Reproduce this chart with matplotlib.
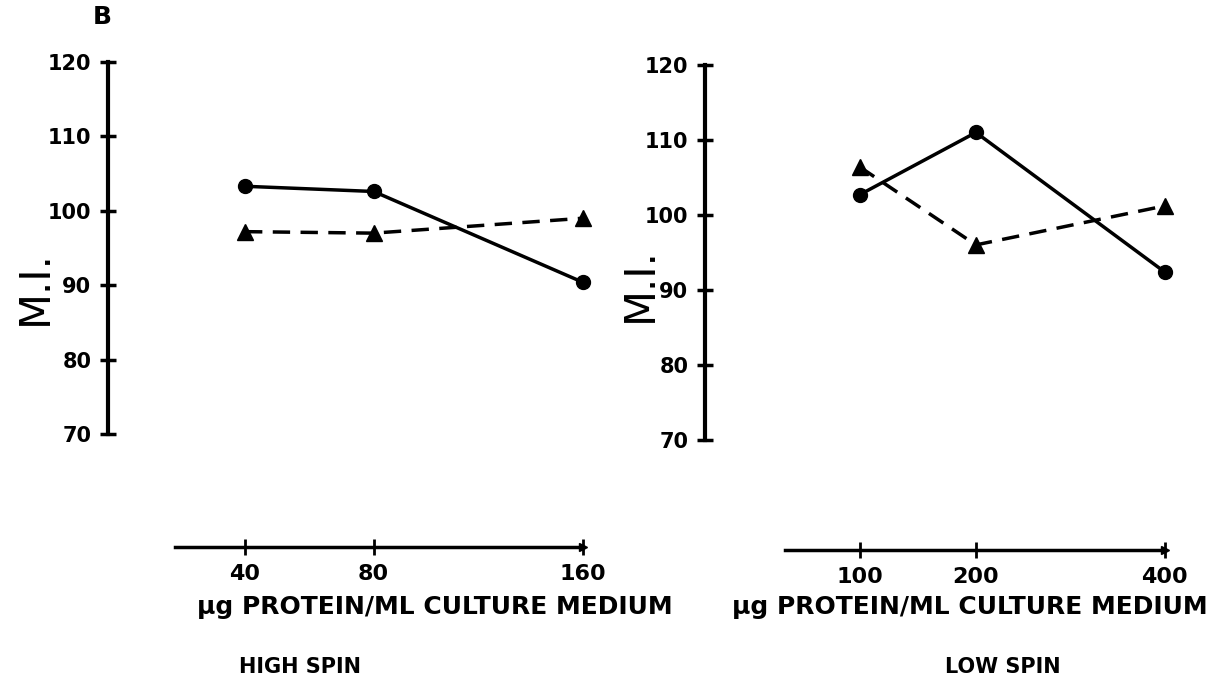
import numpy as np
import matplotlib.pyplot as plt

# values
conc_high = [40, 80, 160]
mi_high_circ = [103.3, 102.6, 90.4]
mi_high_tri = [97.2, 97.0, 99.0]

conc_low = [100, 200, 400]
mi_low_circ = [102.7, 111.0, 92.4]
mi_low_tri = [106.4, 96.0, 101.2]

yticks = [70, 80, 90, 100, 110, 120]

plt.rcParams['font.family'] = ['DejaVu Sans']
plt.rcParams['font.weight'] = 'bold'

fig = plt.figure(figsize=(12.29, 6.88), dpi=100)

# hand drawn x axes are roughly power spaced
fwd = lambda x: np.power(np.clip(x, 0, None), 0.7)
inv = lambda x: np.power(np.clip(x, 0, None), 1 / 0.7)


def panel(rect, conc, circ, tri, xlim, xstart, ylo):
    ax = fig.add_axes(rect)
    ax.set_xscale('function', functions=(fwd, inv))
    ax.set_xlim(*xlim)
    ax.set_ylim(ylo, 120)
    ax.plot(conc, circ, color='black', lw=2.5, marker='o', ms=10, clip_on=False)
    ax.plot(conc, tri, color='black', lw=2.5, ls=(0, (5, 3)), marker='^', ms=11, clip_on=False)
    for s in ['top', 'right']:
        ax.spines[s].set_visible(False)
    ax.spines['left'].set_bounds(70, 120)
    ax.spines['left'].set_linewidth(3)
    ax.spines['bottom'].set_bounds(xstart, conc[-1])
    ax.spines['bottom'].set_linewidth(2.5)
    # little arrow head at the end of the x axis
    ax.plot([conc[-1]], [ylo], marker='>', color='black', ms=6, clip_on=False)
    ax.set_yticks(yticks)
    ax.set_yticklabels([str(v) for v in yticks], fontsize=15)
    ax.set_xticks(conc)
    ax.set_xticklabels([str(v) for v in conc], fontsize=16)
    ax.xaxis.set_minor_locator(plt.NullLocator())
    ax.tick_params(axis='y', direction='inout', length=12, width=2.5, pad=6)
    ax.tick_params(axis='x', direction='inout', length=12, width=2, pad=6)
    ax.patch.set_alpha(0)
    return ax


ax1 = panel([0.0879, 0.2049, 0.4003, 0.7049], conc_high, mi_high_circ, mi_high_tri,
            (8.4, 167.3), 22.1, 54.8)
ax2 = panel([0.5736, 0.2006, 0.3906, 0.7049], conc_low, mi_low_circ, mi_low_tri,
            (7.8, 424), 47.9, 55.3)

fig.text(35 / 1229, 1 - 288 / 688, "M.I.", rotation=90, fontsize=30, fontweight='normal',
         ha='center', va='center')
fig.text(640 / 1229, 1 - 285 / 688, "M.I.", rotation=90, fontsize=30, fontweight='normal',
         ha='center', va='center')
fig.text(102 / 1229, 1 - 17 / 688, "B", fontsize=18, ha='center', va='center')

fig.text(435 / 1229, 1 - 607 / 688, "µg PROTEIN/ML CULTURE MEDIUM", fontsize=18, ha='center', va='center')
fig.text(970 / 1229, 1 - 607 / 688, "µg PROTEIN/ML CULTURE MEDIUM", fontsize=18, ha='center', va='center')
fig.text(300 / 1229, 1 - 667 / 688, "HIGH SPIN", fontsize=15, ha='center', va='center')
fig.text(1003 / 1229, 1 - 667 / 688, "LOW SPIN", fontsize=15, ha='center', va='center')

fig.savefig('out.png', dpi=100)
